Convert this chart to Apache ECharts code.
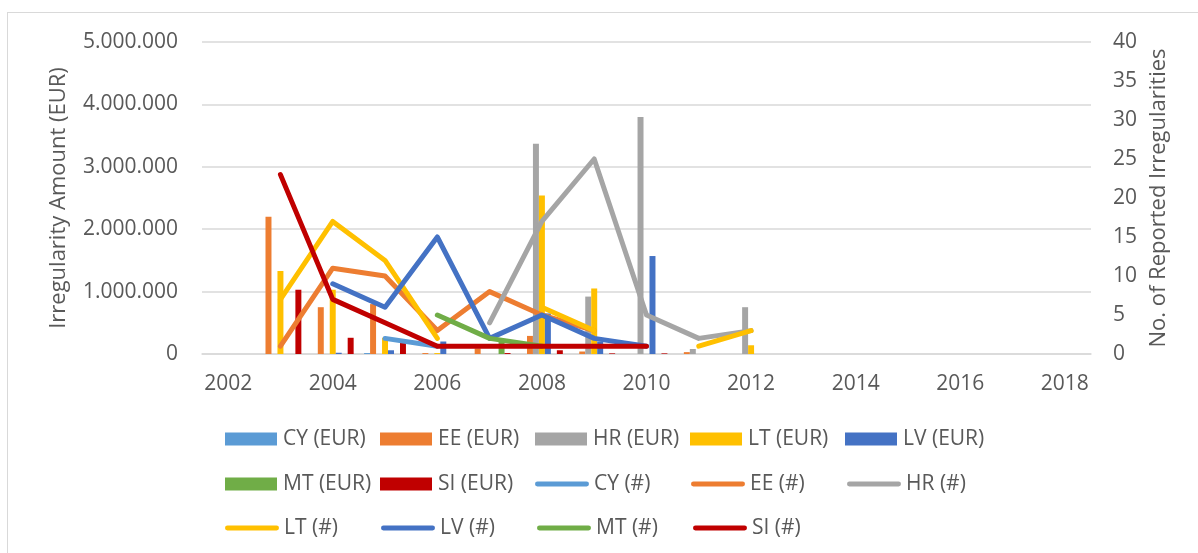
<!DOCTYPE html>
<html>
<head>
<meta charset="utf-8">
<script src="https://cdn.jsdelivr.net/npm/echarts@6/dist/echarts.min.js"></script>
<style>
  html, body { margin: 0; padding: 0; background: #fff; }
  #frame { position: absolute; left: 7px; top: 12px; width: 1300px; height: 700px; border: 1px solid #d9d9d9; }
  #chart { position: absolute; left: 0; top: 0; width: 1198px; height: 553px; }
</style>
</head>
<body>
<div id="frame"></div>
<div id="chart"></div>
<script>
// years on the category axis
const years = ['2002','2003','2004','2005','2006','2007','2008','2009','2010','2011','2012','2013','2014','2015','2016','2017','2018'];

// irregularity amounts (EUR)
const cyEur = [null, null, null, 15000, null, null, null, null, null, null, null];
const eeEur = [null, 2200000, 750000, 800000, 15000, 90000, 290000, 40000, null, 30000, null];
const hrEur = [null, null, null, null, null, null, 3370000, 920000, 3800000, 80000, 750000];
const ltEur = [null, 1330000, 1030000, 260000, 15000, null, 2540000, 1050000, null, null, 140000];
const lvEur = [null, null, 20000, 60000, 200000, null, 650000, 200000, 1570000, null, null];
const mtEur = [null, null, null, null, null, 220000, null, null, null, null, null];
const siEur = [null, 1030000, 260000, 180000, null, 15000, 60000, 10000, 10000, null, null];

// number of reported irregularities
const cyNum = [null, null, null, 2, 1, null, null, null, null, null, null];
const eeNum = [null, 1, 11, 10, 3, 8, 5, 3, null, null, null];
const hrNum = [null, null, null, null, null, 4, 17, 25, 5, 2, 3];
const ltNum = [null, 7, 17, 12, 2, null, 6, 3, null, 1, 3];
const lvNum = [null, null, 9, 6, 15, 2, 5, 2, 1, null, null];
const mtNum = [null, null, null, null, 5, 2, 1, null, null, null, null];
const siNum = [null, 23, 7, 4, 1, 1, 1, 1, 1, null, null];

const colors = {CY: '#5B9BD5', EE: '#ED7D31', HR: '#A5A5A5', LT: '#FFC000', LV: '#4472C4', MT: '#70AD47', SI: '#C00000'};

const txt = '#595959';
const font = 'Open Sans';
// thin rounded bar used as the legend mark of the line series
const lineIcon = 'path://M2.5,0 H53.5 A2.5,2.5 0 0 1 53.5,5 H2.5 A2.5,2.5 0 0 1 2.5,0 Z';

function dots(v) {
  return String(v).replace(/\B(?=(\d{3})+(?!\d))/g, '.');
}

function bar(name, color, data) {
  return {
    name: name, type: 'bar', yAxisIndex: 0, data: data,
    itemStyle: {color: color},
    barGap: '0%', barCategoryGap: '20%'
  };
}
function line(name, color, data) {
  return {
    name: name, type: 'line', yAxisIndex: 1, data: data,
    symbol: 'none', connectNulls: false,
    lineStyle: {color: color, width: 5, cap: 'round', join: 'round'},
    itemStyle: {color: color}
  };
}

function legendRow(top, items) {
  return {
    top: top, left: 225, orient: 'horizontal', padding: 0,
    itemWidth: 54, itemHeight: 13, itemGap: 7,
    selectedMode: false,
    textStyle: {color: txt, fontFamily: font, fontSize: 21, width: 90, lineHeight: 22},
    data: items.map(n => n.indexOf('EUR') > 0 ? {name: n, icon: 'path://M1,0 H53 V13 H1 Z'} : {name: n, icon: lineIcon})
  };
}

const chart = echarts.init(document.getElementById('chart'), null, {renderer: 'canvas'});

chart.setOption({
  animation: false,
  grid: {left: 202, right: 107, top: 42, bottom: 199, containLabel: false},
  legend: [
    legendRow(428, ['CY (EUR)', 'EE (EUR)', 'HR (EUR)', 'LT (EUR)', 'LV (EUR)']),
    legendRow(473, ['MT (EUR)', 'SI (EUR)', 'CY (#)', 'EE (#)', 'HR (#)']),
    legendRow(517, ['LT (#)', 'LV (#)', 'MT (#)', 'SI (#)'])
  ],
  xAxis: {
    type: 'category', data: years, boundaryGap: true,
    axisLine: {lineStyle: {color: '#d9d9d9', width: 1.5}},
    axisTick: {show: false},
    axisLabel: {interval: 1, color: txt, fontFamily: font, fontSize: 21, margin: 20}
  },
  yAxis: [
    {
      type: 'value', min: 0, max: 5000000, interval: 1000000,
      name: 'Irregularity Amount (EUR)', nameLocation: 'middle', nameRotate: 90, nameGap: 132,
      nameTextStyle: {color: txt, fontFamily: font, fontSize: 22},
      axisLine: {show: false}, axisTick: {show: false},
      axisLabel: {color: txt, fontFamily: font, fontSize: 21, margin: 24, formatter: dots},
      splitLine: {lineStyle: {color: '#d9d9d9', width: 1.5}}
    },
    {
      type: 'value', min: 0, max: 40, interval: 5, position: 'right',
      name: 'No. of Reported Irregularities', nameLocation: 'middle', nameRotate: 90, nameGap: 57,
      nameTextStyle: {color: txt, fontFamily: font, fontSize: 22},
      axisLine: {show: false}, axisTick: {show: false},
      axisLabel: {color: txt, fontFamily: font, fontSize: 21, margin: 22},
      splitLine: {show: false}
    }
  ],
  series: [
    bar('CY (EUR)', colors.CY, cyEur),
    bar('EE (EUR)', colors.EE, eeEur),
    bar('HR (EUR)', colors.HR, hrEur),
    bar('LT (EUR)', colors.LT, ltEur),
    bar('LV (EUR)', colors.LV, lvEur),
    bar('MT (EUR)', colors.MT, mtEur),
    bar('SI (EUR)', colors.SI, siEur),
    line('CY (#)', colors.CY, cyNum),
    line('EE (#)', colors.EE, eeNum),
    line('HR (#)', colors.HR, hrNum),
    line('LT (#)', colors.LT, ltNum),
    line('LV (#)', colors.LV, lvNum),
    line('MT (#)', colors.MT, mtNum),
    line('SI (#)', colors.SI, siNum)
  ]
});
</script>
</body>
</html>
